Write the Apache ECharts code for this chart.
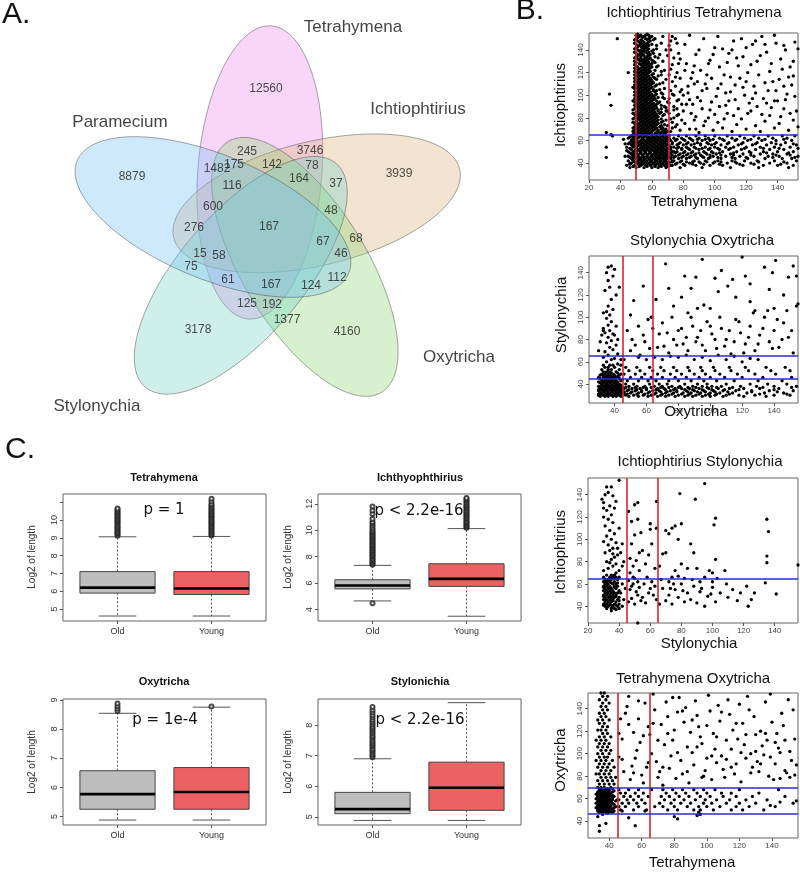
<!DOCTYPE html>
<html><head><meta charset="utf-8">
<script src="https://cdn.jsdelivr.net/npm/echarts@6/dist/echarts.min.js"></script>
<style>html,body{margin:0;padding:0;background:#fff}#c{width:800px;height:873px}</style>
</head><body><div id="c"></div>
<script>
// ---------------- DATA ----------------
const vennSets = ['Tetrahymena','Ichtiophtirius','Oxytricha','Stylonychia','Paramecium'];
const vennCounts = [12560,3939,4160,3178,8879,245,3746,1482,175,142,78,116,164,37,600,48,276,167,67,68,15,58,46,75,61,167,124,112,125,192,1377];
// layout (label anchor positions of each Venn region, in the Venn grid units)
const vennCountPos = [[266,89],[399,174],[347,332],[198,330],[132,177],[247,152],[310,151],[217,169],[234,165],[272,165],[312,166],[232,186],[299,179],[336,184],[213,207],[331,211],[194,228],[269,227],[323,242],[356,239],[200,254],[219,256],[341,254],[191,267],[228,280],[271,285],[311,286],[337,278],[247,304],[272,305],[287,320]];
const vennNamePos = [[353,27],[418,109],[459,357],[97,406],[120,122]];

// Scatter 1: Ichtiophtirius (y) vs Tetrahymena (x). rows: [y, x1, x2, ...]
const ichTetRows = [
[36,46,50,55,60,64,69],[37,48,52,57,62,66,70],[38,44,49,53,56,59,62,65,68,72],[39,46,51,54,57,60,63,66,69],
[40,47,50,52,55,58,61,64,67,70],[41,49,53,56,59,62,65,68,71],[42,45,48,51,54,57,60,63,66,69,73],[43,48,52,55,59,62,65,68],
[44,47,50,53,56,58,61,64,67,70],[45,46,49,52,55,59,63,66,69,72],[46,43,48,51,54,57,60,62,65,68,71],[47,48,51,54,57,60,64,67,70],
[48,47,49,52,55,58,61,63,66,69],[49,46,50,53,56,59,62,65,68,71],[50,45,48,50,53,56,59,62,64,67,70,74],[51,49,52,55,58,61,63,66,69],
[52,47,51,54,57,60,63,65,68],[53,46,50,53,56,59,62,64,67,70],[54,44,48,50,53,55,58,61,64,66,69,72],[55,48,51,54,57,60,63,66,68],
[56,47,49,52,56,59,62,65,67,70],[57,45,50,53,55,58,61,64,67,69],[58,46,48,51,54,57,60,63,66,68],[59,47,49,52,56,59,62,65,67,70],
[60,47,50,53,55,58,61,64,67,69],[61,48,50,54,57,60,63,66,69],[62,45,48,51,54,57,59,62,65,68,71],[63,46,49,52,55,58,61,64,67,70],
[64,47,50,53,56,60,63,66,69],[65,48,51,54,57,60,63,67],[66,49,52,55,58,62,65,68],
[68,48,51,54,57,60,64,67,70],[70,50,53,56,59,62,66,69],[72,49,52,55,58,61,65],[74,51,54,57,60,63,68],[76,48,50,53,56,59,62,66],
[78,52,55,58,61,64,69],[80,49,51,54,57,60,63],[82,50,53,56,59,62,67],[84,48,52,55,58,61,65],[86,51,54,57,60,64,69],
[88,49,53,56,59,62,66],[90,50,52,55,58,61,68],[92,51,54,57,60,63],[94,49,53,56,59,65,70],[96,50,52,55,58,61],
[98,51,54,57,60,64,67],[100,49,53,56,59,62],[102,50,52,55,58,66],[104,51,54,57,61,63],[106,49,53,56,59,68],
[108,50,52,55,58,62],[110,51,54,57,60,65],[112,49,53,56,59],[114,50,52,55,58,63,69],[116,51,54,57,61],
[118,49,53,56,60,66],[120,50,52,55,58],[122,51,54,57,62,68],[124,49,53,56,59],[126,50,55,58,64],
[128,52,54,57,60],[130,49,53,56,61,67],[132,51,55,58],[134,50,53,57,62],[136,52,54,59,65],[138,49,55,58],
[140,51,53,57,61,69],[142,50,54,56],[144,52,55,58,63],[146,49,53,57,66],[148,51,54,59],[150,50,56,58,62],[152,52,55,60,67],[154,51,57],
[67,50,53,56,59,63,66,69],[69,49,52,55,58,61,64,68],[71,48,51,54,57,60,63,67],[73,50,53,56,59,62,66,70],[75,49,52,55,58,61,64],
[77,50,54,57,60,63,67],[79,48,51,53,56,59,62,66],[81,52,55,58,61,64],[83,49,51,54,57,60,63,68],[85,50,53,56,59,62,66],
[87,48,52,55,58,61,64],[89,51,54,57,60,63,69],[91,49,53,56,59,62,66],[93,50,52,55,58,61,64],[95,48,51,54,57,60,63],
[97,49,53,56,59,62,68],[99,50,52,55,58,61],[101,51,54,57,60,63,67],[103,49,53,56,59,62],[105,50,52,55,58,61,65],
[107,48,51,54,57,60],[109,49,53,56,59,63],[111,50,52,55,58,61,67],[113,51,54,57,60],[115,49,53,56,59,62],
[117,50,52,55,58,64],[119,51,54,57,61],[121,49,53,56,59,66],[123,50,52,55,58],[125,51,54,57,60,63],
[127,49,53,56,59],[129,50,55,58,62],[131,52,54,57,60],[133,49,53,56,59,64],[135,51,55,58],[137,50,53,57,61],
[139,52,54,56,60],[141,49,55,58,63],[143,51,53,57],[145,50,54,56,60],[147,52,55,58],[149,49,53,57,61],[151,51,54,59],[153,50,53,56,58],
[36,78,92,110,128,147],[38,73,81,88,97,105,118,131,140,150],[39,75,80,86,93,103,116,125,142],[40,71,76,84,91,99,108,114,123,135,146],
[41,73,78,82,86,90,95,100,104,113,128,144],[42,74,79,87,94,102,111,119,127,138,152],[44,72,77,82,89,96,104,113,121,132,143,149],
[45,71,74,79,84,88,93,97,102,111,120,137,151],[46,75,80,85,92,99,107,116,125,134,141,153],[47,73,77,82,87,91,97,104,112,123,139,148],
[48,71,78,83,88,95,101,110,118,129,137,146],[49,72,75,80,85,90,94,99,103,112,123,133,147],[50,73,76,81,86,93,98,105,114,122,131,140,150],
[52,72,79,84,90,96,103,109,117,126,135,144],[53,71,76,79,83,88,92,97,102,110,119,131,141,153],[54,74,77,82,87,94,100,107,112,120,129,138,148],
[56,71,76,80,85,91,98,104,115,124,133,142,152],[57,73,77,82,87,91,96,100,108,117,126,139,150],[58,73,78,83,89,95,101,109,118,127,136,145],
[60,72,75,81,86,92,97,106,113,121,130,139,149],[61,71,76,80,85,89,94,99,105,114,123,132,144],[62,74,79,84,90,96,103,111,119,128,137,146],
[64,71,77,82,88,94,100,108,116,125,134,143,151]
];
const ichTetPts = [[72,68],[75,72],[78,69],[81,75],[84,70],[87,78],[90,67],[93,73],[96,80],[99,69],[102,76],[105,71],[108,84],[111,68],[114,74],[117,79],[120,70],[123,86],[126,73],[129,68],[132,77],[135,82],[138,71],[141,75],[144,88],[147,69],[150,78],[153,72],
[71,84],[74,90],[77,96],[80,86],[83,102],[86,92],[89,98],[92,88],[95,106],[98,94],[101,99],[104,110],[107,91],[110,103],[113,96],[116,115],[119,100],[122,93],[125,108],[128,118],[131,97],[134,104],[137,112],[140,95],[143,123],[146,101],[149,109],[152,86],
[73,112],[76,120],[79,105],[82,128],[85,115],[88,136],[91,122],[94,110],[97,131],[100,142],[103,125],[106,118],[109,137],[112,148],[115,126],[118,134],[121,120],[124,145],[127,130],[130,152],[133,138],[136,128],[139,146],[142,132],[145,140],[148,125],[151,147],[154,135],
[72,140],[75,150],[78,132],[81,145],[84,153],[87,126],[90,140],[93,150],[96,128],[99,136],[102,152],[105,141],[108,129],[111,140],[114,133],[117,150],[120,142],[123,127],[126,148],[129,135],[132,145],[135,121],[138,153],[141,114],[144,144],[147,116],[150,130],[153,141],
[73,76],[76,82],[79,78],[82,92],[85,84],[88,81],[91,95],[94,77],[97,87],[100,83],[103,90],[106,79],[109,95],[112,82],[115,88],[118,107],[121,84],[124,97],[127,90],[130,83],[133,93],[136,89],[139,104],[142,81],[145,96],[148,84],[151,99],
[74,100],[78,115],[83,108],[86,120],[89,112],[92,104],[95,118],[98,115],[102,106],[107,102],[110,116],[113,109],[120,112],[126,102],[132,111],[138,95],[144,108],[150,117],
[70,86],[71,93],[72,104],[71,118],[73,127],[70,135],[72,148],[74,80],[76,88],[75,108],[77,137],[79,92],[80,100],[81,122],[84,96],[87,110],[88,70],
[73,71],[76,74],[72,79],[77,83],[74,87],[71,97],[76,95],[73,101],[78,103],[75,116],[72,123],[77,128],[74,133],[71,144],[76,146],[73,152],
[31,67],[31,54],[31,45],[33,101],[34,91],[34,65],[35,64],[38,150],[45,120],[43,57],[44,51],[45,46],[42,61],[46,40]];
const ichTetV = [50,71];
const ichTetH = [65];

// Scatter 2: Stylonychia (y) vs Oxytricha (x)
const styOxyRows = [
[29,31,34,36,39,41,44],[30,30,33,35,38,40,43],[31,30,32,35,37,40,42,45],[32,31,34,36,39,41,44],[33,31,33,36,38,41,43],[34,30,33,35,38,40,43,45],
[35,30,32,34,37,39,42,44],[36,31,34,36,39,41,44],[37,31,33,35,38,40,43,45],[38,30,33,35,37,40,42],[39,32,34,36,39,41,44],[40,32,35,38,41,43],
[41,31,33,35,37,40,42],[42,30,33,36,39,42],[43,32,34,36,38,41,44],[44,32,35,38,40,45],[45,31,33,35,37,39,43],[46,30,34,36,39,41],
[47,33,35,38,40,42],[48,31,33,37,40,43],[49,32,34,36,39,44],[50,34,36,38,42],[51,33,35,37,41],[53,32,36,38,43],[55,34,36,40],[57,33,37,39,44],
[29,49,55,61,67,72,78,84,89,95,100,108,121,135],[30,47,52,58,63,69,74,80,86,91,97,103,110,118,128,140,150],
[31,48,54,59,65,70,76,82,87,93,99,104,112,131,148],[32,46,50,55,61,66,72,77,83,88,94,100,106,114,123,134,146],
[33,46,51,57,62,69,73,79,86,92,97,103,111,126,142],[34,48,53,57,64,68,75,79,85,90,96,102,108,116,126,137,152],
[35,49,54,60,66,72,77,84,89,95,101,109,118,140],[36,46,51,56,60,67,71,78,82,87,93,99,105,112,121,131,143],
[37,47,53,58,63,69,74,80,86,91,98,104,114,133,151],[38,49,54,59,65,70,76,81,89,95,101,107,119,129,140,154],
[40,47,52,62,68,73,84,92,98,110,125,136,148],[43,48,55,61,66,74,80,88,96,104,115,130,145],
[46,50,57,63,70,78,85,93,100,109,120,133,151],[49,46,53,59,67,75,82,90,97,106,117,128,141],
[52,49,56,64,71,79,87,95,103,113,124,138,150],[55,47,54,62,69,77,86,94,102,112,122,135,147]
];
const styOxyPts = [[35,60],[38,62],[33,64],[40,63],[36,66],[42,67],[34,69],[39,71],[37,73],[41,75],[35,77],[38,79],[36,82],[40,84],[34,86],[37,88],[39,85],[42,80],[33,90],[36,93],[38,96],[35,99],[37,102],[33,104],[35,105],[39,107],[36,110],[38,116],[41,120],[34,124],[37,127],[36,133],[35,140],[36,145],[38,146],[40,143],[39,137],[43,127],[33,88],[32,84],[41,92],[42,58],[44,62],[30,70],[31,78],
[46,62],[50,70],[53,75],[56,66],[59,78],[62,72],[65,64],[68,85],[71,74],[74,68],[77,80],[80,88],[83,76],[86,70],[89,92],[92,82],[95,75],[98,96],[101,85],[104,72],[107,90],[110,80],[113,67],[116,98],[119,86],[122,76],[125,92],[128,70],[131,84],[134,100],[137,78],[140,88],[143,73],[146,95],[149,82],[152,68],[154,110],
[48,88],[51,80],[55,92],[58,84],[61,98],[64,90],[67,73],[70,95],[73,86],[76,100],[79,75],[82,90],[85,82],[88,100],[91,78],[94,88],[97,70],[100,92],[103,80],[106,100],[109,74],[112,88],[115,78],[118,96],[121,68],[124,82],[127,104],[130,76],[133,90],[136,106],[139,72],[142,98],[145,80],[148,106],[151,88],
[75,65],[80,64],[85,66],[90,62],[95,64],[100,61],[105,66],[110,62],[115,65],[120,60],[125,63],[130,62],[60,62],[55,64],[70,62],
[50,102],[52,115],[58,128],[63,100],[66,116],[72,148],[74,126],[77,110],[82,118],[84,137],[88,126],[91,136],[95,152],[96,111],[100,108],[103,135],[105,123],[107,142],[111,128],[114,134],[116,118],[120,154],[122,137],[125,114],[128,106],[134,145],[137,125],[139,140],[141,151],[146,120],[149,136],[152,146],[154,137],[155,112],[140,108],[125,130],[92,108],[86,104]];
const styOxyV = [45,64];
const styOxyH = [45,65];

// Scatter 3: Ichtiophtirius (y) vs Stylonychia (x)
const ichStyRows = [
[38,32,35,37,40],[40,31,33,36,39],[41,30,35,38],[42,30,32,34,37,40],[44,31,33,35,38],[45,32,36,40],[46,30,32,34,36,39],
[48,31,33,35,37,40],[49,30,34,38],[50,30,32,34,36,38],[52,31,33,35,37,39],[53,32,36],[54,30,32,34,36,40],[56,31,33,35,38],
[57,30,34,37],[58,30,32,34,37,39],[60,31,33,36,38],[61,32,35,39],[62,30,32,34,37],[64,31,33,35,39],[65,34,37],[66,30,34,36,38],[68,32,35,37]
];
const ichStyPts = [[30,72],[33,74],[36,76],[38,78],[32,80],[35,82],[37,84],[39,86],[31,88],[34,90],[36,92],[33,95],[38,97],[30,98],[35,100],[32,103],[37,105],[34,108],[31,112],[36,115],[33,118],[30,120],[35,122],[32,126],[37,128],[34,130],[30,133],[29,136],[31,140],[33,142],[35,147],[40,153],[36,139],[38,134],[32,147],[30,128],[40,72],[42,76],[41,88],[43,80],[39,92],[42,96],[40,110],[36,87],[34,79],[38,70],[40,66],[42,60],[41,52],[43,46],[42,40],[44,56],[35,36],[38,37],
[46,44],[48,47],[50,42],[52,50],[54,45],[47,55],[49,60],[51,53],[53,57],[55,48],[57,43],[59,52],[46,63],[48,58],[50,65],[52,62],[56,60],[58,66],[60,56],[62,50],[64,46],[61,62],[63,58],[47,70],[49,76],[51,81],[53,72],[55,90],[57,78],[59,86],[61,96],[63,74],[48,96],[50,104],[52,118],[54,106],[50,131],[52,133],[60,114],[60,109],[64,134],[64,110],[47,83],[49,66],[66,42],[68,56],[67,64],[46,125],[48,116],[53,88],[52,25],
[70,45],[72,50],[74,42],[76,55],[78,48],[80,60],[82,44],[84,52],[86,46],[88,58],[90,43],[92,53],[95,40],[97,49],[100,57],[102,44],[105,52],[110,48],[116,45],[118,52],[122,58],[123,40],[125,46],[127,52],[134,61],[72,62],[74,66],[76,72],[78,67],[80,78],[82,65],[84,74],[86,96],[88,88],[90,74],[92,62],[95,66],[98,72],[100,70],[102,82],[103,65],[108,72],[100,62],[70,108],[72,105],[74,110],[76,112],[78,100],[80,114],[89,136],[95,150],[101,113],[102,119],[135,118],[136,107],[135,85],[135,79],[141,51],[155,77],[70,88],[68,87],[66,76],[79,141],[73,56],[75,60],[81,54],[87,64],[93,56],[99,51],[109,60],[113,55]];
const ichStyV = [45,65];
const ichStyH = [65];

// Scatter 4: Oxytricha (y) vs Tetrahymena (x)
const oxyTetRows = [
[48,34,36,38,40,42],[49,33,35,37,39,41,43],[50,33,35,37,39,41],[51,34,36,38,40,42],[52,32,34,36,38,40,43],[53,33,35,37,39,41,44],
[54,33,35,37,39,41],[55,34,36,38,40,43],[56,32,34,36,38,40,42],[57,33,35,37,39,41],[58,33,35,37,39,41,44],[59,34,36,38,40,42,45],
[60,32,34,36,38,40,42],[61,33,35,37,39,41],[62,33,35,37,39,41,43],[63,34,36,38,40,42],[64,32,34,36,38,40],[65,33,35,37,39,41],
[66,33,35,37,39,42],[67,34,36,38,40,43],[68,34,36,38,40],[69,35,37,39,42],[70,33,35,37,41],
[73,34,37,40,43],[76,33,36,39,42],[79,35,38,41,44],[82,32,34,37,40],[85,35,38,41],[88,33,36,39,43],[91,34,37,40],[94,32,35,38,42],
[97,34,37,39],[100,33,36,40],[103,35,38,41],[106,33,36,39],[109,34,37,40],[112,32,35,38],[115,34,37,41],[118,36,39],[121,33,35,38],
[124,36,39],[127,34,37],[130,33,36,40],[133,35,38],[136,34,37],[139,36,39],[142,35,38],[145,36,40],[148,34,38],[151,36,39],[154,35,37],
[50,47,55,63,76,82,92,96,104,115,122,135],[53,46,50,58,68,73,80,88,95,100,108,118,126,142],[56,48,52,57,62,71,78,84,90,98,103,112,120,130,153],
[59,46,51,55,60,74,80,86,93,99,106,114,124,137],[62,49,53,58,64,72,77,83,89,96,102,110,118,128,148],[65,47,50,56,61,75,81,87,94,100,109,115,132],
[68,46,52,58,66,73,79,85,92,98,105,120,144]
];
const oxyTetPts = [[34,36],[34,31],[38,38],[33,44],[36,46],[39,47],[52,43],[56,36],[95,48],[96,46],[94,45],[82,42],[80,44],[48,49],[62,49],
[47,131],[49,84],[51,142],[46,97],[53,77],[55,119],[50,136],[57,103],[48,113],[54,89],[52,151],[58,131],[56,96],[60,81],[62,145],[59,110],[64,124],[61,74],[66,100],[63,88],[68,139],[65,117],[70,79],[67,153],[72,126],[69,93],[74,108],[71,84],[76,133],[73,72],[78,98],[75,146],[80,121],[77,87],[82,137],[79,112],[84,94],[81,78],[86,128],[83,150],[88,106],[85,82],[90,119],[87,141],[92,90],[89,74],[94,134],[91,101],[96,115],[93,147],[98,80],[95,124],[100,96],[97,109],[102,138],[99,85],[104,118],[101,152],[106,92],[103,77],[108,129],[105,104],[110,86],[107,143],[112,112],[109,98],[114,135],[111,79],[116,121],[113,148],[118,91],[115,104],[120,144],[117,82],[122,127],[119,113],[124,96],[121,75],[126,139],[123,108],[128,88],[125,151],[130,117],[127,100],[132,84],[129,133],[134,107],[131,93],[136,146],[133,120],[138,80],[135,99],[140,128],[137,112],[142,91],[139,153],[144,105],[141,77],[146,136],[143,118],[148,85],[145,101],[150,148],[147,125],[152,94],[149,83],[154,113],[151,79],[153,139],[155,90],
[46,118],[48,95],[52,126],[55,83],[58,147],[61,116],[64,92],[67,127],[70,112],[73,88],[76,118],[79,150],[82,101],[85,138],[88,84],[91,130],[94,106],[97,79],[100,125],[103,98],[106,115],[109,137],[112,95],[115,88],[118,127],[121,101],[124,117],[127,83],[130,102],[133,91],[136,118],[139,97],[142,110],[145,78],[148,112],[151,102],[154,81],
[145,57],[139,54],[155,58]];
const oxyTetV = [45,65];
const oxyTetH = [47,70];

const scatterXTicks = [20,40,60,80,100,120,140];
const scatterYTicks = [40,60,80,100,120,140];

// Boxplots: [lower whisker, Q1, median, Q3, upper whisker] for Old, Young
const boxCats = ['Old','Young'];
const tetBox = [[4.6,5.89,6.2,7.1,9.06],[4.6,5.81,6.15,7.1,9.08]];
const tetOutOld = [9.12,9.2,9.27,9.35,9.41,9.5,9.57,9.63,9.71,9.8,9.86,9.93,10.0,10.07,10.15,10.22,10.3,10.36,10.44,10.5,10.58,10.66];
const tetOutYoung = [9.14,9.21,9.29,9.36,9.44,9.52,9.6,9.67,9.75,9.82,9.9,9.97,10.05,10.13,10.2,10.28,10.35,10.43,10.5,10.58,10.66,10.74,10.82,10.9,11.05,11.2];
const ichBox = [[4.65,5.56,5.82,6.25,7.34],[3.49,5.75,6.32,7.46,10.12]];
const ichOutOld = [4.48,7.38,7.47,7.55,7.66,7.74,7.83,7.95,8.04,8.12,8.23,8.31,8.42,8.5,8.61,8.69,8.8,8.88,8.97,9.08,9.16,9.27,9.35,9.46,9.54,9.65,9.73,9.84,9.93,10.05,10.18,10.33,10.49,10.62,10.85,11.22,11.5,11.8];
const ichOutYoung = [10.18,10.27,10.36,10.44,10.55,10.63,10.72,10.84,10.92,11.03,11.11,11.22,11.3,11.41,11.5,11.62,11.7,11.81,11.9,12.02,12.13,12.25,12.34,12.43];
const oxyBox = [[4.88,5.25,5.77,6.57,8.54],[4.88,5.25,5.84,6.68,8.75]];
const oxyOutOld = [8.62,8.7,8.78,8.88];
const oxyOutYoung = [8.77];
const styBox = [[4.88,5.1,5.25,5.8,6.9],[4.88,5.21,5.95,6.79,8.74]];
const styOutOld = [6.95,7.0,7.06,7.12,7.18,7.23,7.3,7.35,7.41,7.47,7.53,7.6,7.65,7.72,7.78,7.84,7.9,7.96,8.03,8.1,8.17,8.25,8.33,8.42,8.5,8.6];
const styOutYoung = [];
const tetTicks = [5,6,7,8,9,10,11], tetLabels = [5,6,7,8,9,10];
const ichTicks = [4,6,8,10,12];
const oxyTicks = [5,6,7,8,9];
const styTicks = [5,6,7,8];

// ---------------- LAYOUT / STYLE ----------------
const F = '"Liberation Sans", Arial, sans-serif';
const FD = '"DejaVu Sans", sans-serif';
const vennFill = ['rgba(238,130,238,0.33)','rgba(222,184,135,0.38)','rgba(140,212,115,0.35)','rgba(110,210,190,0.33)','rgba(120,195,245,0.36)'];
const VC = [267,227], VR = 55, VA = 147, VB = 62, VSTART = -7.5, VTILT = 12;

const scatterPanels = [
 {title:'Ichtiophtirius Tetrahymena', xName:'Tetrahymena', yName:'Ichtiophtirius', rows:ichTetRows, pts:ichTetPts, v:ichTetV, h:ichTetH,
  grid:{left:589,top:33,width:209,height:147}, x:[20,153], y:[25,155], tPos:[694,13], xnPos:[694,202], ynPos:[561,105]},
 {title:'Stylonychia Oxytricha', xName:'Oxytricha', yName:'Stylonychia', rows:styOxyRows, pts:styOxyPts, v:styOxyV, h:styOxyH,
  grid:{left:589,top:256,width:209,height:147}, x:[24,155], y:[23,155], tPos:[702,241], xnPos:[696,412], ynPos:[562,315]},
 {title:'Ichtiophtirius Stylonychia', xName:'Stylonychia', yName:'Ichtiophtirius', rows:ichStyRows, pts:ichStyPts, v:ichStyV, h:ichStyH,
  grid:{left:588,top:478,width:210,height:145}, x:[20,155], y:[25,155], tPos:[700,462], xnPos:[699,644], ynPos:[561,552]},
 {title:'Tetrahymena Oxytricha', xName:'Tetrahymena', yName:'Oxytricha', rows:oxyTetRows, pts:oxyTetPts, v:oxyTetV, h:oxyTetH,
  grid:{left:588,top:693,width:210,height:145}, x:[27,156], y:[25,154], tPos:[693,679], xnPos:[692,863], ynPos:[561,760]}
];
const boxPanels = [
 {title:'Tetrahymena', p:'p = 1', stats:tetBox, out:[tetOutOld,tetOutYoung], y:[4.32,11.47], ticks:tetTicks, labels:tetLabels,
  grid:{left:63,top:494,width:203,height:127}, tPos:[164,478], pPos:[164,510], ynPos:[32,557]},
 {title:'Ichthyophthirius', p:'p < 2.2e-16', stats:ichBox, out:[ichOutOld,ichOutYoung], y:[3.13,12.74], ticks:ichTicks, labels:ichTicks,
  grid:{left:318,top:494,width:203,height:127}, tPos:[420,478], pPos:[419,511], ynPos:[288,557]},
 {title:'Oxytricha', p:'p = 1e-4', stats:oxyBox, out:[oxyOutOld,oxyOutYoung], y:[4.71,9.03], ticks:oxyTicks, labels:oxyTicks,
  grid:{left:63,top:699,width:203,height:126}, tPos:[164,682], pPos:[165,720], ynPos:[32,762]},
 {title:'Stylonichia', p:'p < 2.2e-16', stats:styBox, out:[styOutOld,styOutYoung], y:[4.73,8.86], ticks:styTicks, labels:styTicks,
  grid:{left:318,top:699,width:203,height:126}, tPos:[420,682], pPos:[420,720], ynPos:[288,762]}
];
const boxColors = ['#bebebe','#ec6163'];

// ---------------- BUILD ----------------
const grids = [], xAxes = [], yAxes = [], series = [], graphics = [];
function txt(t, x, y, size, o) {
  o = o || {};
  return {type:'text', x:x, y:y, rotation:o.rot || 0, silent:true, z:100,
    style:{text:t, fontSize:size, fontFamily:o.family || F, fontWeight:o.weight || 'normal', fill:o.color || '#111', align:o.align || 'center', verticalAlign:'middle'}};
}
function valAxis(gi, min, max, ticks, labels, extra) {
  const t = ticks.filter(v => v >= min && v <= max), l = labels.filter(v => v >= min && v <= max);
  return Object.assign({type:'value', gridIndex:gi, min:min, max:max, splitLine:{show:false}, axisLine:{show:false},
    axisTick:{show:true, inside:false, length:3, customValues:t, lineStyle:{color:'#555', width:1}},
    axisLabel:{customValues:l, fontSize:8, color:'#444', margin:4, fontFamily:F}}, extra || {});
}

// Venn grid
grids.push({left:0, top:0, width:540, height:420, show:false});
xAxes.push({type:'value', gridIndex:0, min:0, max:540, show:false});
yAxes.push({type:'value', gridIndex:0, min:0, max:420, inverse:true, show:false});
series.push({
  type:'custom', xAxisIndex:0, yAxisIndex:0, silent:true, data:vennSets.map((s,i)=>[i]),
  renderItem:function(params, api){
    const i = params.dataIndex;
    const ang = (VSTART + i*72) * Math.PI/180;
    const cx = VC[0] + VR*Math.sin(ang), cy = VC[1] - VR*Math.cos(ang);
    const rot = ang + VTILT*Math.PI/180;
    const ux = Math.sin(rot), uy = -Math.cos(rot), vx = Math.cos(rot), vy = Math.sin(rot);
    const pts = [];
    for (let k = 0; k < 160; k++) {
      const t = k/160*2*Math.PI;
      pts.push(api.coord([cx + VA*Math.cos(t)*ux + VB*Math.sin(t)*vx, cy + VA*Math.cos(t)*uy + VB*Math.sin(t)*vy]));
    }
    return {type:'polygon', shape:{points:pts}, style:{fill:vennFill[i], stroke:'rgba(70,70,70,0.6)', lineWidth:0.8}};
  }
});
series.push({type:'scatter', xAxisIndex:0, yAxisIndex:0, silent:true, symbolSize:0, z:5,
  data:vennCounts.map((c,i)=>[vennCountPos[i][0], vennCountPos[i][1], c]),
  label:{show:true, position:'inside', formatter:p=>String(p.value[2]), fontSize:12, fontFamily:F, color:'#222'}});
series.push({type:'scatter', xAxisIndex:0, yAxisIndex:0, silent:true, symbolSize:0, z:5,
  data:vennSets.map((s,i)=>[vennNamePos[i][0], vennNamePos[i][1], s]),
  label:{show:true, position:'inside', formatter:p=>p.value[2], fontSize:17, fontFamily:F, color:'#111'}});

// Scatter panels
scatterPanels.forEach(function(P){
  grids.push(Object.assign({show:true, borderColor:'#666', borderWidth:1}, P.grid));
  const gi = grids.length - 1;
  xAxes.push(valAxis(gi, P.x[0], P.x[1], scatterXTicks, scatterXTicks));
  yAxes.push(valAxis(gi, P.y[0], P.y[1], scatterYTicks, scatterYTicks, {axisLabel:{customValues:scatterYTicks, fontSize:8, color:'#444', margin:4, rotate:90, fontFamily:F}}));
  const ai = xAxes.length - 1;
  const data = P.rows.flatMap(r => r.slice(1).map(x => [x, r[0]])).concat(P.pts);
  series.push({type:'scatter', xAxisIndex:ai, yAxisIndex:ai, silent:true, symbol:'circle', symbolSize:3.3,
    itemStyle:{color:'#000', opacity:1}, data:data, large:false,
    markLine:{silent:true, symbol:['none','none'], label:{show:false}, animation:false,
      data:P.v.map(v=>({xAxis:v, lineStyle:{color:'#d8262a', width:1.6, type:'solid'}}))
        .concat(P.h.map(h=>({yAxis:h, lineStyle:{color:'#2a2ccd', width:1.6, type:'solid'}})))}});
  graphics.push(txt(P.title, P.tPos[0], P.tPos[1], 15));
  graphics.push(txt(P.xName, P.xnPos[0], P.xnPos[1], 15));
  graphics.push(txt(P.yName, P.ynPos[0], P.ynPos[1], 15, {rot:Math.PI/2}));
});

// Box panels
boxPanels.forEach(function(P){
  grids.push(Object.assign({show:true, borderColor:'#666', borderWidth:1}, P.grid));
  const gi = grids.length - 1;
  xAxes.push(valAxis(gi, 0.42, 2.58, [1,2], [1,2], {axisLabel:{customValues:[1,2], fontSize:9, color:'#333', margin:6, fontFamily:F, formatter:v=>boxCats[Math.round(v)-1]}}));
  yAxes.push(valAxis(gi, P.y[0], P.y[1], P.ticks, P.labels, {axisLabel:{customValues:P.labels, fontSize:9, color:'#333', margin:4, rotate:90, fontFamily:F}}));
  const ai = xAxes.length - 1;
  series.push({type:'custom', xAxisIndex:ai, yAxisIndex:ai, silent:true,
    data:P.stats.map((s,i)=>[i+1].concat(s)), encode:{x:0, y:[1,2,3,4,5]},
    renderItem:function(params, api){
      const i = params.dataIndex, x = api.value(0);
      const lo = api.value(1), q1 = api.value(2), md = api.value(3), q3 = api.value(4), hi = api.value(5);
      const c = (a,b) => api.coord([a,b]);
      const bl = c(x-0.4, q3), br = c(x+0.4, q1);
      const L = (p1,p2,st) => ({type:'line', shape:{x1:p1[0], y1:p1[1], x2:p2[0], y2:p2[1]}, style:st});
      const ws = {stroke:'#555', lineWidth:1, lineDash:[2,2]};
      const cs = {stroke:'#555', lineWidth:1};
      return {type:'group', children:[
        L(c(x,q3), c(x,hi), ws), L(c(x,q1), c(x,lo), ws),
        L(c(x-0.2,hi), c(x+0.2,hi), cs), L(c(x-0.2,lo), c(x+0.2,lo), cs),
        {type:'rect', shape:{x:bl[0], y:bl[1], width:br[0]-bl[0], height:br[1]-bl[1]}, style:{fill:boxColors[i], stroke:'#444', lineWidth:1}},
        L(c(x-0.4,md), c(x+0.4,md), {stroke:'#000', lineWidth:2.6})
      ]};
    }});
  const od = [];
  P.out.forEach((arr,i)=>arr.forEach(v=>od.push([i+1, v])));
  series.push({type:'scatter', xAxisIndex:ai, yAxisIndex:ai, silent:true, symbol:'emptyCircle', symbolSize:4,
    itemStyle:{color:'#222', borderWidth:1}, data:od, z:3});
  graphics.push(txt(P.title, P.tPos[0], P.tPos[1], 11, {weight:'bold'}));
  graphics.push(txt(P.p, P.pPos[0], P.pPos[1], 15, {family:FD}));
  graphics.push(txt('Log2 of length', P.ynPos[0], P.ynPos[1], 10, {rot:Math.PI/2, color:'#333'}));
});

// Panel letters
graphics.push(txt('A.', 2, 15, 30, {align:'left'}), txt('B.', 530, 11, 30), txt('C.', 20, 450, 30));

const chart = echarts.init(document.getElementById('c'), null, {renderer:'canvas'});
chart.setOption({animation:false, backgroundColor:'#fff', grid:grids, xAxis:xAxes, yAxis:yAxes, series:series, graphic:{elements:graphics}});
</script></body></html>
